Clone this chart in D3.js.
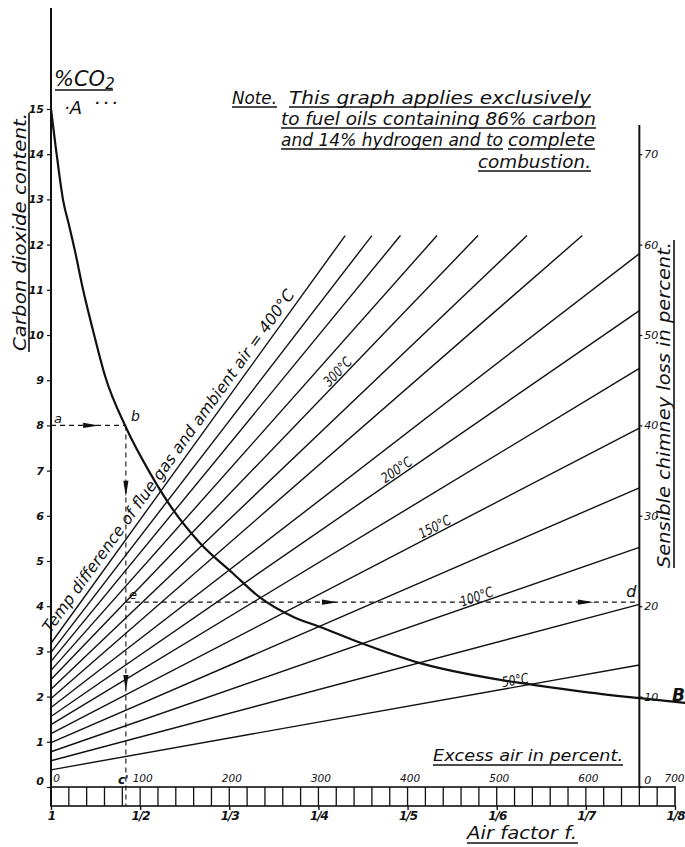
<!DOCTYPE html>
<html><head><meta charset="utf-8">
<script src="https://cdn.jsdelivr.net/npm/d3@7"></script>
<style>
body{margin:0;background:#fff;}
svg{display:block;background:#fff;}
text{font-family:"DejaVu Sans",sans-serif;font-style:italic;fill:#111;}
</style></head><body>
<svg id="c" width="685" height="847"></svg>
<script>
// ---- data ----
const excessTicks=[0,100,200,300,400,500,600,700];
const airFactorLabels=["1","1/2","1/3","1/4","1/5","1/6","1/7","1/8"];
const co2Ticks=[0,1,2,3,4,5,6,7,8,9,10,11,12,13,14,15];
const lossTicks=[0,10,20,30,40,50,60,70];
// CO2 curve (excess air %, CO2 %)
const curveExcess=[0,5,10,13.5,20,27,36,47,61,84,111,137,167,204,234,272,302,347,414,504,541,600,658,712];
const curveCO2=[15.0,14.2,13.45,12.99,12.45,11.85,11.0,10.11,9.07,7.96,6.95,6.13,5.40,4.73,4.20,3.76,3.54,3.19,2.74,2.37,2.26,2.10,1.97,1.86];
// temperature-difference lines (chimney loss %, start at 0 % excess)
const temps=[50,75,100,125,150,175,200,225,250,275,300,325,350,375,400];
const lineStartLoss=[1.9,2.9,3.9,4.9,5.9,6.9,7.8,8.8,9.8,10.8,11.9,12.9,13.9,14.9,15.9];
const lineEndExcess=[660,660,660,660,660,660,660,660,596,534,479,433,392,360,330];
const lineEndLoss=[13.5,20.2,26.5,33.1,39.7,46.3,52.7,59.0,61,61,61,61,61,61,61];
const labelTemps=[300,200,150,100,50];
const labelExcess=[327,392,434,480,522];
const rightAxisExcess=660;
const exampleCO2=8, exampleExcess=84, exampleLoss=20.45;

// ---- drawing ----
const svg=d3.select("#c");
const ink="#111";
const X=d3.scaleLinear().domain([0,700]).range([51,675]);
const YC=d3.scaleLinear().domain([0,15]).range([787,109]);
const YL=d3.scaleLinear().domain([0,75]).range([787,109]);
const y0=YC(0), barH=19;

// temperature lines
const lines=temps.map((t,i)=>({t,x1:X(0),y1:YL(lineStartLoss[i]),x2:X(lineEndExcess[i]),y2:YL(lineEndLoss[i])}));
svg.append("g").selectAll("line").data(lines).join("line")
  .attr("x1",d=>d.x1).attr("y1",d=>d.y1).attr("x2",d=>d.x2).attr("y2",d=>d.y2)
  .attr("stroke",ink).attr("stroke-width",1.4);

// CO2 curve
const idx=d3.range(curveExcess.length);
svg.append("path").attr("d",d3.line().x(i=>X(curveExcess[i])).y(i=>YC(curveCO2[i])).curve(d3.curveMonotoneX)(idx))
  .attr("fill","none").attr("stroke",ink).attr("stroke-width",2.2);

// left axis
svg.append("line").attr("x1",X(0)).attr("x2",X(0)).attr("y1",8).attr("y2",y0+barH).attr("stroke",ink).attr("stroke-width",2);
const gl=svg.append("g").attr("transform",`translate(${X(0)},0)`)
  .call(d3.axisLeft(YC).tickValues(co2Ticks).tickSize(4).tickPadding(3));
gl.select(".domain").remove();
gl.selectAll("line").attr("stroke",ink).attr("stroke-width",1.2);
gl.selectAll("text").style("font-size","11px").style("font-weight","bold").attr("dy",d=>d===0?"-0.2em":"0.32em");

// right axis
const xr=X(rightAxisExcess);
svg.append("line").attr("x1",xr).attr("x2",xr).attr("y1",125).attr("y2",y0).attr("stroke",ink).attr("stroke-width",2);
const gr=svg.append("g").attr("transform",`translate(${xr},0)`)
  .call(d3.axisRight(YL).tickValues(lossTicks).tickSize(3).tickPadding(2));
gr.select(".domain").remove();
gr.selectAll("line").attr("stroke",ink).attr("stroke-width",1.2);
gr.selectAll("text").style("font-size","11px").attr("dy",d=>d===0?"-0.35em":"0.32em");

// bottom scale bar
svg.append("rect").attr("x",X(0)).attr("y",y0).attr("width",X(700)-X(0)).attr("height",barH)
  .attr("fill","none").attr("stroke",ink).attr("stroke-width",1.6);
svg.append("g").selectAll("line").data(d3.range(20,700,20)).join("line")
  .attr("x1",d=>X(d)).attr("x2",d=>X(d)).attr("y1",y0).attr("y2",y0+barH)
  .attr("stroke",ink).attr("stroke-width",1.3);
// excess air labels (top of bar)
const gt=svg.append("g").attr("transform",`translate(0,${y0})`)
  .call(d3.axisTop(X).tickValues(excessTicks).tickSize(0).tickPadding(5));
gt.select(".domain").remove();
gt.selectAll("text").style("font-size","10.5px").attr("dx",d=>d===0?"5":(d===700?"-1":"2"));
// air factor labels (bottom of bar)
const gb=svg.append("g").attr("transform",`translate(0,${y0+barH})`)
  .call(d3.axisBottom(X).tickValues(excessTicks).tickSize(4).tickPadding(1).tickFormat((d,i)=>airFactorLabels[i]));
gb.select(".domain").remove();
gb.selectAll("line").attr("stroke",ink).attr("stroke-width",1.4);
gb.selectAll("text").style("font-size","12px").style("font-weight","bold").attr("letter-spacing","-1");

// temperature labels
function linePoint(t,e){
  const i=temps.indexOf(t);
  const ex=lineEndExcess[i];
  const l=lineStartLoss[i]+(lineEndLoss[i]-lineStartLoss[i])*e/ex;
  const ang=Math.atan2(YL(lineEndLoss[i])-YL(lineStartLoss[i]),X(ex)-X(0))*180/Math.PI;
  return {x:X(e),y:YL(l),ang};
}
labelTemps.forEach((t,k)=>{
  const p=linePoint(t,labelExcess[k]);
  svg.append("text").attr("transform",`translate(${p.x},${p.y}) rotate(${p.ang})`)
    .attr("text-anchor","middle").attr("dy",-2).style("font-size","14px")
    .attr("textLength",t>=100?34:27).attr("lengthAdjust","spacingAndGlyphs")
    .text(t+"°C");
});
{
  const p=linePoint(400,5);
  svg.append("text").attr("transform",`translate(${p.x},${p.y}) rotate(${p.ang})`)
    .attr("dy",-6).style("font-size","16px")
    .attr("textLength",418).attr("lengthAdjust","spacingAndGlyphs")
    .text("Temp difference of flue gas and ambient air = 400°C");
}

// worked example (dashed)
const dash="5,4";
const yb=YC(exampleCO2), xb=X(exampleExcess), yd=YL(exampleLoss);
svg.append("line").attr("x1",X(0)).attr("x2",xb).attr("y1",yb).attr("y2",yb).attr("stroke",ink).attr("stroke-dasharray",dash).attr("stroke-width",1.1);
svg.append("line").attr("x1",xb).attr("x2",xb).attr("y1",yb).attr("y2",y0+barH).attr("stroke",ink).attr("stroke-dasharray",dash).attr("stroke-width",1.1);
svg.append("line").attr("x1",xb).attr("x2",xr).attr("y1",yd).attr("y2",yd).attr("stroke",ink).attr("stroke-dasharray",dash).attr("stroke-width",1.1);
function arrow(x,y,dir){
  const L=16,W=2.6;
  const pts=dir==="r"?[[x+L/2,y],[x-L/2,y-W],[x-L/2,y+W]]:[[x,y+L/2],[x-W,y-L/2],[x+W,y-L/2]];
  svg.append("path").attr("d","M"+pts.map(p=>p.join(",")).join("L")+"Z").attr("fill",ink);
}
arrow(X(45),yb,"r");
arrow(xb,YC(6.6),"d");
arrow(xb,YC(2.3),"d");
arrow(X(313),yd,"r");
arrow(X(600),yd,"r");
svg.append("text").attr("x",X(0)+3).attr("y",yb-2).style("font-size","13px").text("a");
svg.append("text").attr("x",xb+5).attr("y",yb-4).style("font-size","14px").text("b");
svg.append("text").attr("x",xb-8).attr("y",y0-3).style("font-size","12px").style("font-weight","bold").text("c'");
svg.append("text").attr("x",xb+3).attr("y",yd-3).style("font-size","13px").text("e");
svg.append("text").attr("x",xr-13).attr("y",yd-5).style("font-size","16px").text("d");
svg.append("text").attr("x",X(0)+13).attr("y",YC(15)+5).style("font-size","18px").text("·A");
svg.append("text").attr("x",X(0)+44).attr("y",YC(15)-2).style("font-size","12px").style("font-weight","bold").text("· · ·");
svg.append("text").attr("x",672).attr("y",YC(1.86)-2).style("font-size","17px").style("font-weight","bold").text("B");

// %CO2 heading
const h=svg.append("text").attr("x",54).attr("y",86).style("font-size","21px");
h.append("tspan").text("%CO");
h.append("tspan").attr("dy",3).style("font-size","15px").text("2");
svg.append("line").attr("x1",55).attr("x2",113).attr("y1",90).attr("y2",90).attr("stroke",ink).attr("stroke-width",1.6);

// axis titles
function ul(x1,y1,x2,y2){svg.append("line").attr("x1",x1).attr("y1",y1).attr("x2",x2).attr("y2",y2).attr("stroke",ink).attr("stroke-width",1.6);}
svg.append("text").attr("transform","translate(26,351) rotate(-90)").style("font-size","17px")
  .attr("textLength",238).attr("lengthAdjust","spacingAndGlyphs").text("Carbon dioxide content.");
ul(29,352,29,113);
svg.append("text").attr("transform","translate(670,568) rotate(-90)").style("font-size","17px")
  .attr("textLength",326).attr("lengthAdjust","spacingAndGlyphs").text("Sensible chimney loss in percent.");
ul(674,568,674,240);
svg.append("text").attr("x",433).attr("y",761).style("font-size","16px")
  .attr("textLength",190).attr("lengthAdjust","spacingAndGlyphs").text("Excess air in percent.");
ul(433,765,623,765);
svg.append("text").attr("x",467).attr("y",839).style("font-size","17px")
  .attr("textLength",110).attr("lengthAdjust","spacingAndGlyphs").text("Air factor f.");
ul(467,843,578,843);

// note
const note=[
  ["Note.",232,104,45],["This graph applies exclusively",289,104,302],
  ["to fuel oils containing 86% carbon",281,125,315],
  ["and 14% hydrogen and to",281,146,222],["complete",508,146,87],
  ["combustion.",478,168,113]
];
note.forEach(([s,x,y,w])=>{
  svg.append("text").attr("x",x).attr("y",y).style("font-size","17px")
    .attr("textLength",w).attr("lengthAdjust","spacingAndGlyphs").text(s);
  ul(x,y+3,x+w,y+3);
});
</script>
</body></html>
